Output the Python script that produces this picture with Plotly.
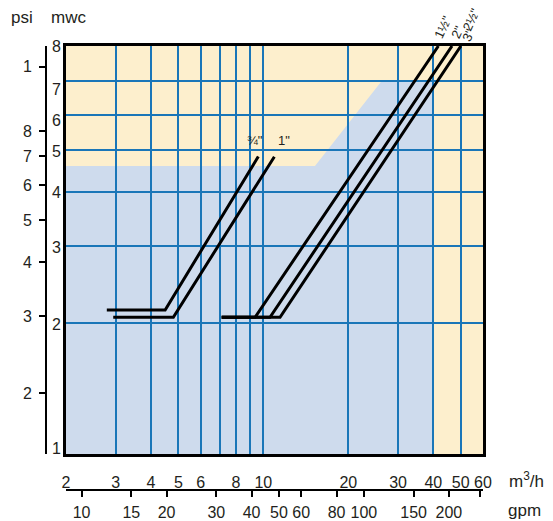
import numpy as np
import plotly.graph_objects as go

# ---------------------------------------------------------------- data
# Flow axis (m3/h) and pressure-loss axis (metres of water column)
FLOW_MIN, FLOW_MAX = 2, 60
MWC_MIN, MWC_MAX = 1, 8.66
PSI_PER_MWC = 1.449
GPM_PER_M3H = 1 / 0.2271

# Flow labels (major) and extra grid lines without labels (minor)
flow_ticks = [2, 3, 4, 5, 6, 8, 10, 20, 30, 40, 50, 60]
flow_text = ["2", "3", "4", "5", "6", "8", "10", "20", "30", "40", "50", "60"]
flow_extra_grid = [7, 9]

# Pressure grid lines (mwc) and where the mwc numbers sit
mwc_grid = [2, 3, 4, 5, 6, 7.21]
mwc_label_pos = [1.03, 1.985, 2.99, 4.0, 4.96, 5.83, 6.87, 8.66]
mwc_label_text = ["1", "2", "3", "4", "5", "6", "7", "8"]

# psi scale
psi_ticks = [2, 3, 4, 5, 6, 7, 8, 11.25]
psi_text = ["2", "3", "4", "5", "6", "7", "8", "1"]

# gpm scale
gpm_ticks = [10, 15, 20, 30, 40, 50, 60, 80, 100, 150, 200]
gpm_text = ["10", "15", "20", "30", "40", "50", "60", "80", "100", "150", "200"]
gpm_end_tick = [258]

# Recommended operating zone (blue area), flow / mwc corners
zone_flow = [2, 2, 15.24, 26.3, 40, 40]
zone_mwc = [1, 4.59, 4.59, 7.21, 7.21, 1]

# Valve pressure-loss curves
v34_flow = [2.79, 4.49, 9.6]
v34_mwc = [2.143, 2.143, 4.825]
v1_flow = [2.94, 4.80, 10.94]
v1_mwc = [2.062, 2.062, 4.82]
v112_flow = [7.12, 9.35, 41.7]
v112_mwc = [2.062, 2.062, 8.66]
v2_flow = [7.12, 10.56, 46.6]
v2_mwc = [2.062, 2.062, 8.66]
v3_flow = [7.12, 11.46, 50.1]
v3_mwc = [2.062, 2.062, 8.66]

# ---------------------------------------------------------------- style
W, H = 553, 521
L, R, T, B = 46, 70, 46, 10
PW, PH = W - L - R, H - T - B
FONT = "Liberation Sans, Arial, sans-serif"
TXT = "#231f20"
GRID = "#1a76b8"
YELLOW = "#fdefcd"
BLUE = "#cedbed"


def px_x(px):
    return (px - L) / PW


def px_y(py):
    return (H - B - py) / PH


lg = np.log10
fig = go.Figure()

curves = [
    (v34_flow, v34_mwc),
    (v1_flow, v1_mwc),
    (v112_flow, v112_mwc),
    (v2_flow, v2_mwc),
    (v3_flow, v3_mwc),
]
for fx, fy in curves:
    fig.add_trace(go.Scatter(x=fx, y=fy, mode="lines",
                             line=dict(color="black", width=3),
                             hoverinfo="skip"))

# anchor points so the extra scales are drawn
fig.add_trace(go.Scatter(x=[10], y=[2], xaxis="x2", yaxis="y", mode="markers",
                         marker=dict(opacity=0), hoverinfo="skip"))
fig.add_trace(go.Scatter(x=[10], y=[3], xaxis="x", yaxis="y2", mode="markers",
                         marker=dict(opacity=0), hoverinfo="skip"))
fig.add_trace(go.Scatter(x=[10], y=[2], xaxis="x", yaxis="y3", mode="markers",
                         marker=dict(opacity=0), hoverinfo="skip"))

# operating zone behind the grid
path = "M " + " L ".join(f"{q},{h}" for q, h in zip(zone_flow, zone_mwc)) + " Z"
fig.add_shape(type="path", path=path, xref="x", yref="y", layer="below",
              fillcolor=BLUE, line=dict(width=0))

y_dom = [px_y(454), 1]
x_dom = [px_x(66), 1]

common = dict(automargin=False, fixedrange=True, zeroline=False)

fig.update_layout(
    width=W, height=H,
    margin=dict(l=L, r=R, t=T, b=B, autoexpand=False),
    paper_bgcolor="white", plot_bgcolor=YELLOW,
    showlegend=False,
    font=dict(family=FONT, size=16, color=TXT),
    xaxis=dict(type="log", range=[lg(FLOW_MIN), lg(FLOW_MAX)], domain=x_dom,
               tickmode="array", tickvals=flow_ticks, ticktext=flow_text,
               ticks="", showgrid=True, gridcolor=GRID, gridwidth=2,
               minor=dict(tickmode="array", tickvals=flow_extra_grid,
                          showgrid=True, gridcolor=GRID, gridwidth=2, ticks=""),
               showline=True, linecolor="black", linewidth=3, mirror=True,
               ticklabelstandoff=12, **common),
    yaxis=dict(type="log", range=[lg(MWC_MIN), lg(MWC_MAX)], domain=y_dom,
               tickmode="array", tickvals=mwc_grid, showticklabels=False,
               ticks="", showgrid=True, gridcolor=GRID, gridwidth=2,
               showline=True, linecolor="black", linewidth=3, mirror=True,
               **common),
    yaxis3=dict(type="log", range=[lg(MWC_MIN), lg(MWC_MAX)], overlaying="y",
                anchor="x", side="left",
                tickmode="array", tickvals=mwc_label_pos, ticktext=mwc_label_text,
                ticks="", showgrid=False, showline=False,
                ticklabelstandoff=4, **common),
    yaxis2=dict(type="log",
                range=[lg(MWC_MIN * PSI_PER_MWC), lg(MWC_MAX * PSI_PER_MWC)],
                overlaying="y", anchor="free", position=0, side="left",
                tickmode="array", tickvals=psi_ticks, ticktext=psi_text,
                ticks="outside", ticklen=6, tickwidth=2, tickcolor="black",
                showline=True, linecolor="black", linewidth=2,
                showgrid=False, ticklabelstandoff=4, **common),
    xaxis2=dict(type="log",
                range=[lg(FLOW_MIN * GPM_PER_M3H), lg(FLOW_MAX * GPM_PER_M3H)],
                overlaying="x", anchor="free", position=px_y(490), side="bottom",
                tickmode="array", tickvals=gpm_ticks, ticktext=gpm_text,
                ticks="outside", ticklen=6, tickwidth=2, tickcolor="black",
                minor=dict(tickmode="array", tickvals=gpm_end_tick,
                           ticks="outside", ticklen=6, tickwidth=2,
                           tickcolor="black", showgrid=False),
                showline=True, linecolor="black", linewidth=2,
                showgrid=False, ticklabelstandoff=2, **common),
)

ann = []
# axis titles
for text, x, y in [("psi", 22, 17), ("mwc", 68, 17),
                   ("m<sup>3</sup>/h", 526, 480), ("gpm", 524, 510)]:
    ann.append(dict(text=text, x=px_x(x), y=px_y(y), xref="paper", yref="paper",
                    showarrow=False, xanchor="center", yanchor="middle",
                    font=dict(size=17, color=TXT)))

# size labels at the top of each curve
size_labels = [
    ('¾"', v34_flow[-1], v34_mwc[-1], -3, 16, 0),
    ('1"', v1_flow[-1], v1_mwc[-1], 10, 16, 0),
    ('1½"', v112_flow[-1], v112_mwc[-1], 4, 19, -65),
    ('2"', v2_flow[-1], v2_mwc[-1], 5, 14, -65),
    ('2½"', v3_flow[-1], v3_mwc[-1], 10, 27, -65),
    ('3"', v3_flow[-1], v3_mwc[-1], 7, 11, -65),
]
for text, q, h, dx, dy, ang in size_labels:
    ann.append(dict(text=text, x=lg(q), y=lg(h), xref="x", yref="y",
                    xshift=dx, yshift=dy, textangle=ang, showarrow=False,
                    xanchor="center", yanchor="middle",
                    font=dict(size=13, color=TXT)))
fig.update_layout(annotations=ann)

fig.write_html("out.html")
